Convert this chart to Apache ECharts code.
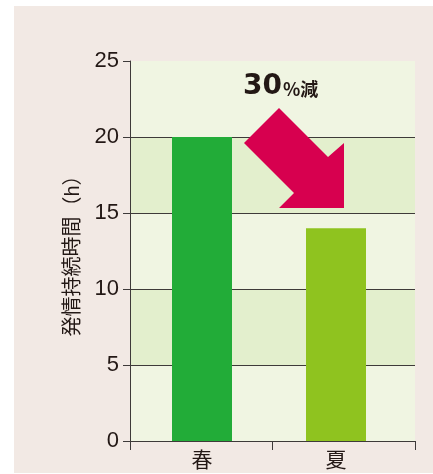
<!DOCTYPE html>
<html><head><meta charset="utf-8">
<script src="https://cdn.jsdelivr.net/npm/echarts@6/dist/echarts.min.js"></script>
<style>html,body{margin:0;padding:0;background:#fff}#c{width:433px;height:474px}</style>
</head><body><div id="c"></div>
<script>
const categories = ['春', '夏'];
const values = [20, 14];
const barColors = ['#22ac38', '#8fc31f'];
const yTicks = [0, 5, 10, 15, 20, 25];
const yName = '発情持続時間（h）';
const annotationNum = '30';
const annotationUnit = '%減';

const FONT = '"Liberation Sans", "Noto Sans CJK JP", sans-serif';
const chart = echarts.init(document.getElementById('c'), null, {renderer: 'canvas'});
chart.setOption({
  animation: false,
  backgroundColor: '#ffffff',
  grid: [
    {left: 130, right: 18, top: 61, bottom: 33, containLabel: false},
    {left: 135, width: 268, top: 61, bottom: 33, containLabel: false}
  ],
  graphic: [
    {type: 'rect', z: -10, silent: true, shape: {x: 14, y: 6, width: 419, height: 467}, style: {fill: '#f2e9e4'}},
    {type: 'polygon', z: 10, shape: {points: [[279,108],[328,157],[344,143],[344,208],[279,208],[294,193],[244,143]]}, style: {fill: '#d7004f'}},
    {type: 'text', z: 10, left: 243, top: 73, style: {
      text: '{a|' + annotationNum + '}{b|' + annotationUnit + '}', fill: '#231815',
      rich: {
        a: {fontSize: 28, fontWeight: 'bold', fontFamily: '"DejaVu Sans", sans-serif', fill: '#231815'},
        b: {fontSize: 18, fontWeight: 'bold', fontFamily: '"Noto Sans CJK JP", sans-serif', fill: '#231815', padding: [5,0,0,1]}
      }}}
  ],
  xAxis: [{
    gridIndex: 0, type: 'category', data: categories, boundaryGap: true,
    axisLine: {show: true, lineStyle: {color: '#3e3a39', width: 1}},
    axisTick: {show: true, length: 9, interval: 0, lineStyle: {color: '#3e3a39'}},
    axisLabel: {show: false}
  }, {
    gridIndex: 1, type: 'category', data: categories, boundaryGap: true,
    axisLine: {show: false}, axisTick: {show: false},
    axisLabel: {fontSize: 21, color: '#231815', fontFamily: FONT, margin: 10}
  }],
  yAxis: [{
    gridIndex: 0, type: 'value', min: 0, max: 25, interval: 5,
    name: yName, nameLocation: 'middle', nameGap: 46,
    nameTextStyle: {fontSize: 20, color: '#231815', fontFamily: FONT},
    axisLine: {show: true, lineStyle: {color: '#3e3a39', width: 1}},
    axisTick: {show: true, length: 7, lineStyle: {color: '#3e3a39'}},
    axisLabel: {fontSize: 22, color: '#231815', fontFamily: FONT, margin: 11,
      formatter: v => yTicks.includes(v) ? String(v) : ''},
    splitLine: {show: true, showMaxLine: false, lineStyle: {color: '#3e3a39', width: 1}},
    splitArea: {show: true, areaStyle: {color: ['#f0f5e2', '#e3efcd']}}
  }, {
    gridIndex: 1, type: 'value', min: 0, max: 25, interval: 5, show: false
  }],
  series: [{
    type: 'bar', xAxisIndex: 1, yAxisIndex: 1, barWidth: 60,
    data: values.map((v, i) => ({value: v, itemStyle: {color: barColors[i]}}))
  }]
});
</script></body></html>
